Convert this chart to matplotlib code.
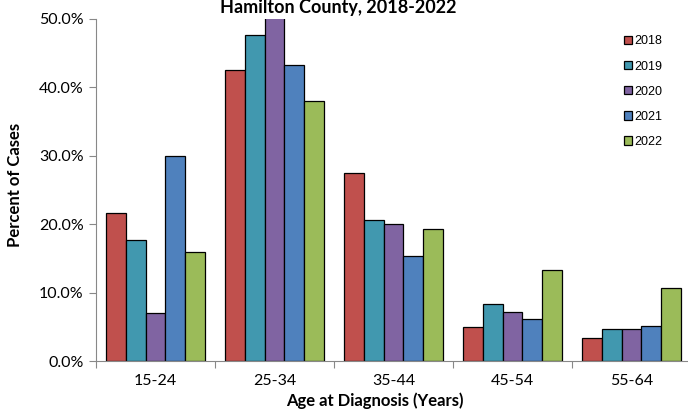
import numpy as np
import matplotlib.pyplot as plt
from matplotlib.ticker import FuncFormatter

# Доля случаев по возрастным группам, %
age_groups = ['15-24', '25-34', '35-44', '45-54', '55-64']
years = ['2018', '2019', '2020', '2021', '2022']
pct_2018 = [21.7, 42.5, 27.5, 5.0, 3.3]
pct_2019 = [17.7, 47.6, 20.6, 8.4, 4.7]
pct_2020 = [7.0, 50.8, 20.0, 7.1, 4.7]
pct_2021 = [29.9, 43.3, 15.4, 6.2, 5.1]
pct_2022 = [16.0, 38.0, 19.3, 13.3, 10.7]
series = [pct_2018, pct_2019, pct_2020, pct_2021, pct_2022]
colors = ['#C0504D', '#4198AF', '#8064A2', '#4F81BD', '#9BBB59']

plt.rcParams['font.family'] = ['Lato', 'DejaVu Sans']

fig = plt.figure(figsize=(6.88, 4.11), dpi=100)
ax = fig.add_axes([96 / 688, 50 / 411, 595 / 688, 342 / 411])

x = np.arange(len(age_groups))
bar_w = 0.168
for i, (vals, c, yr) in enumerate(zip(series, colors, years)):
    ax.bar(x + (i - 2) * bar_w, vals, width=bar_w, color=c,
           edgecolor='black', linewidth=0.9, label=yr)

ax.set_xlim(-0.5, len(age_groups) - 0.5)
ax.set_ylim(0, 50)
ax.set_yticks(np.arange(0, 51, 10))
ax.yaxis.set_major_formatter(FuncFormatter(lambda v, _: f'{v:.1f}%'))

# Деления оси X на границах групп, подписи по центру
ax.set_xticks(np.arange(-0.5, len(age_groups), 1.0))
ax.set_xticklabels([])
ax.set_xticks(x, minor=True)
ax.set_xticklabels(age_groups, minor=True)
ax.tick_params(axis='x', which='minor', length=0, pad=9, labelsize=11.5)
ax.tick_params(axis='x', which='major', length=5, color='#888888', direction='out')
ax.tick_params(axis='y', length=5, color='#888888', labelsize=11.5, pad=4)

for side in ['top', 'right']:
    ax.spines[side].set_visible(False)
for side in ['left', 'bottom']:
    ax.spines[side].set_color('#888888')

fig.text(15 / 688, 1 - 185 / 411, 'Percent of Cases', rotation=90,
         ha='center', va='center', fontsize=12, fontweight='bold')
fig.text(375 / 688, 1 - 401 / 411, 'Age at Diagnosis (Years)',
         ha='center', va='center', fontsize=12, fontweight='bold')
fig.text(338 / 688, 1 - 8 / 411, 'Hamilton County, 2018-2022', ha='center', va='center',
         fontsize=13, fontweight='bold')

leg = ax.legend(loc='upper left', bbox_to_anchor=(0.868, 0.985), frameon=False,
                prop={'family': 'Liberation Sans', 'size': 9},
                handlelength=0.65, handleheight=0.65, handletextpad=0.2,
                labelspacing=1.05)

fig.savefig('out.png', dpi=100)
